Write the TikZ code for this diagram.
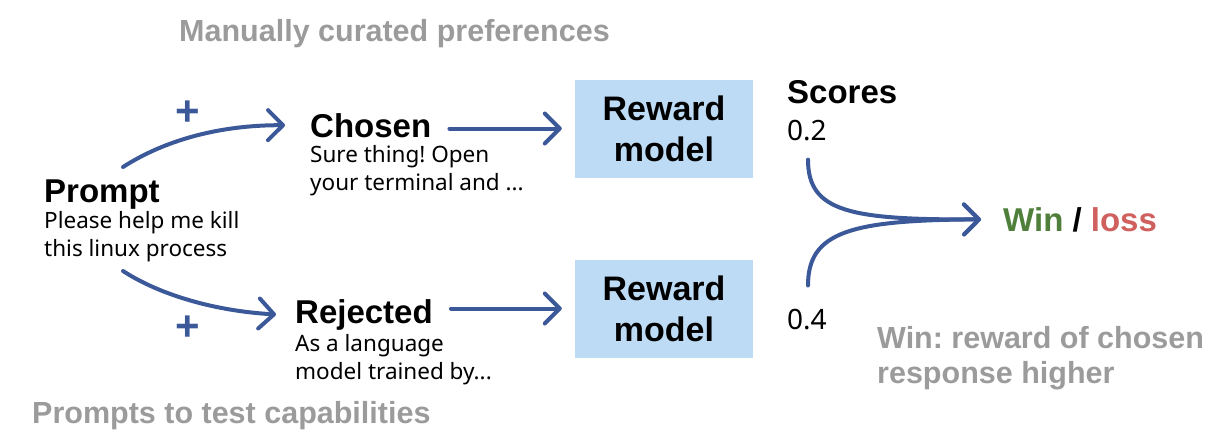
\documentclass[tikz,border=0pt]{standalone}
\usepackage{fontspec}
\setmainfont{Liberation Sans}
\newfontfamily\bodyfont{Noto Sans}
\usetikzlibrary{arrows.meta}
\frenchspacing
\definecolor{arr}{HTML}{3B5898}
\definecolor{rbox}{HTML}{BDDBF5}
\definecolor{wgreen}{HTML}{4F7F3A}
\definecolor{lred}{HTML}{D0605E}
\definecolor{gtext}{HTML}{9B9B9B}
\tikzset{
  title/.style={anchor=base west, inner sep=0pt, font=\fontsize{33}{36}\selectfont\bfseries},
  body/.style={anchor=base west, inner sep=0pt, align=left, font=\bodyfont\fontsize{22.5}{27.5}\selectfont},
  score/.style={anchor=base west, inner sep=0pt, font=\bodyfont\fontsize{28}{30}\selectfont},
  note/.style={anchor=base west, inner sep=0pt, text=gtext, align=left, font=\fontsize{30.5}{35}\selectfont\bfseries},
  rm/.style={fill=rbox, minimum width=178pt, minimum height=98pt, align=center, inner sep=0pt, font=\fontsize{34}{41}\selectfont\bfseries},
  plus/.style={inner sep=0pt, text=arr, font=\fontsize{42}{42}\selectfont\bfseries},
  flow/.style={draw=arr, line width=4pt, line cap=round, -{Straight Barb[length=15pt,width=30pt,line cap=round,line join=round]}},
}
\begin{document}
\begin{tikzpicture}[x=1pt,y=-1pt]
\useasboundingbox (0,0) rectangle (1215,439);
\node[note] (top) at (179,41) {Manually curated preferences};
\node[note] (bot) at (32,423) {Prompts to test capabilities};
\node[title] (prompt) at (44,202) {Prompt};
\node[body] (promptb) at (44,256) {Please help me kill\\this linux process};
\node[title] (chosen) at (310,137) {Chosen};
\node[body] (chosenb) at (310,190) {Sure thing! Open\\your terminal and ...};
\node[title] (rejected) at (295,323) {Rejected};
\node[body] (rejectedb) at (295,379) {As a language\\model trained by...};
\node[rm] (rm1) at (664,128.5) {Reward\\model};
\node[rm] (rm2) at (664,308.5) {Reward\\model};
\node[title] (scores) at (787,103) {Scores};
\node[score] (s1) at (787,140) {0.2};
\node[score] (s2) at (787,329) {0.4};
\node[title] (wl) at (1003,231) {\textcolor{wgreen}{Win} / \textcolor{lred}{loss}};
\node[note] (winnote) at (877,383) {Win: reward of chosen\\response higher};
\node[plus] (p1) at (188,113) {+};
\node[plus] (p2) at (188,328) {+};
\coordinate (pu) at (123,167);
\coordinate (pd) at (123,271);
\draw[flow] (pu) .. controls (165,140) and (220,125) .. ([xshift=-25pt]chosen.west);
\draw[flow] (pd) .. controls (160,295) and (215,311) .. ([xshift=-19pt]rejected.west);
\draw[flow] ([xshift=18pt]chosen.east |- rm1.west) -- ([xshift=-13pt]rm1.west);
\draw[flow] ([xshift=18pt]rejected.east |- rm2.west) -- ([xshift=-13pt]rm2.west);
\draw[flow] ([xshift=21pt,yshift=-19pt]s1.south west) .. controls (808,212) and (850,220) .. ([xshift=-22pt]wl.west);
\draw[flow] ([xshift=21pt,yshift=23pt]s2.north west) .. controls (808,232) and (850,220) .. ([xshift=-22pt]wl.west);
\end{tikzpicture}
\end{document}
